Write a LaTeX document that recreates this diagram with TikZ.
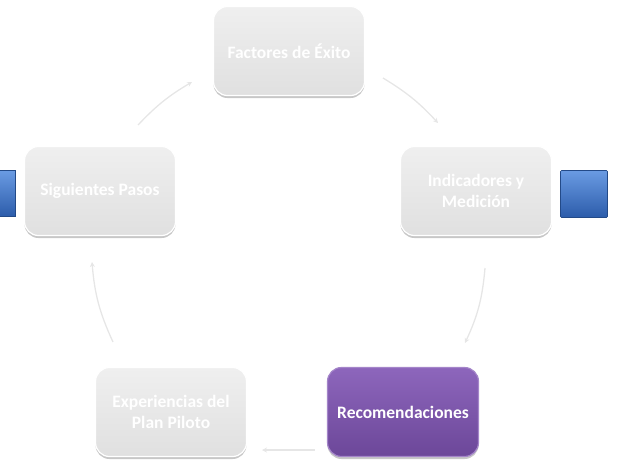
\documentclass[tikz,border=0pt]{standalone}
\usepackage{fontspec}
\setmainfont{Carlito}
\usetikzlibrary{arrows.meta,shadows}
\definecolor{boxtop}{HTML}{EFEFEF}
\definecolor{boxbot}{HTML}{E0E0E0}
\definecolor{purtop}{HTML}{8D66BC}
\definecolor{purbot}{HTML}{6C4799}
\definecolor{bluetop}{HTML}{6A9BE3}
\definecolor{bluebot}{HTML}{2C5CAA}
\definecolor{arrowcol}{HTML}{E6E6E6}
\begin{document}
\begin{tikzpicture}[x=1pt,y=-1pt,
  boxbase/.style={rounded corners=14pt, minimum width=151pt, minimum height=89pt,
    line width=1.2pt, align=center,
    font=\bfseries\fontsize{17.5}{20.5}\selectfont,
    drop shadow={shadow xshift=0pt, shadow yshift=-2.5pt, fill=black, opacity=0.22}},
  gbox/.style={boxbase, top color=boxtop, bottom color=boxbot, draw=white, text=white},
  pbox/.style={boxbase, top color=purtop, bottom color=purbot, draw=purtop!80!white, text=white},
  bbox/.style={inner sep=0pt, top color=bluetop, bottom color=bluebot, draw=bluebot!80!black, line width=0.6pt},
  flow/.style={draw=arrowcol, line width=1.3pt, -{Stealth[length=5pt,width=5pt]}}
]
\useasboundingbox (0,0) rectangle (617,467);

\node[gbox] (F) at (289,51) {Factores de Éxito};
\node[gbox] (S) at (100,191) {Siguientes Pasos};
\node[gbox] (I) at (476,191) {Indicadores y\\Medición};
\node[gbox] (E) at (171,412) {Experiencias del\\Plan Piloto};
\node[pbox] (R) at (403,412) {Recomendaciones};

\node[bbox, minimum width=17pt, minimum height=46pt] (BL) at (6.5,193.5) {};
\node[bbox, minimum width=47pt, minimum height=47pt, rounded corners=1pt] (BR) at (584,194) {};

\coordinate (a1s) at (138,125);
\coordinate (a1e) at (192,82);
\coordinate (a2s) at (383,78);
\coordinate (a2e) at (438,123);
\coordinate (a3s) at (485,268);
\coordinate (a3e) at (465,343);
\coordinate (a4s) at (315,450);
\coordinate (a4e) at (262,450);
\coordinate (a5s) at (113,342);
\coordinate (a5e) at (92,262);

\draw[flow] (a1s) to[bend left=8] (a1e);
\draw[flow] (a2s) to[bend left=8] (a2e);
\draw[flow] (a3s) to[bend left=10] (a3e);
\draw[flow] (a4s) -- (a4e);
\draw[flow] (a5s) to[bend left=10] (a5e);
\end{tikzpicture}
\end{document}
